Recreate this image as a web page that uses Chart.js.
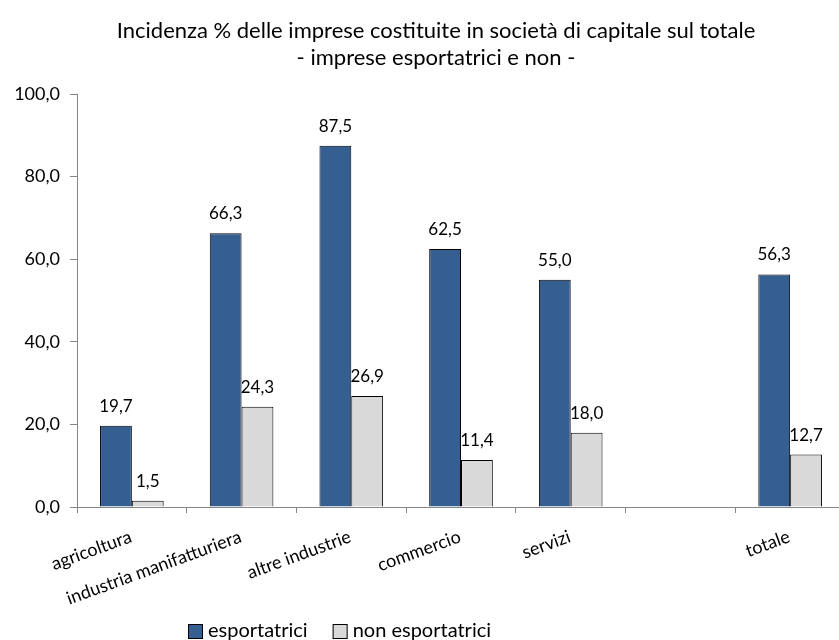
<!DOCTYPE html>
<html>
<head>
<meta charset="utf-8">
<script src="https://cdn.jsdelivr.net/npm/chart.js@4"></script>
<style>
  html, body { margin: 0; padding: 0; background: #fff; overflow: hidden; }
  #wrap { width: 846px; height: 640px; position: relative; }
</style>
</head>
<body>
<div id="wrap"><canvas id="chart"></canvas></div>
<script>
const categories = ['agricoltura', 'industria manifatturiera', 'altre industrie', 'commercio', 'servizi', '', 'totale'];
const esportatrici = [19.7, 66.3, 87.5, 62.5, 55.0, null, 56.3];
const nonEsportatrici = [1.5, 24.3, 26.9, 11.4, 18.0, null, 12.7];
const yTicks = [0, 20, 40, 60, 80, 100];
const titleLines = ['Incidenza % delle imprese costituite in società di capitale sul totale', '- imprese esportatrici e non -'];

const FONT = 'Lato, "Open Sans", sans-serif';
const fmt = v => v.toFixed(1).replace('.', ',');

// etichette sopra le barre
const valueLabels = {
  id: 'valueLabels',
  afterDatasetsDraw(chart) {
    const ctx = chart.ctx;
    ctx.save();
    ctx.font = '17px ' + FONT;
    ctx.fillStyle = '#000';
    ctx.textAlign = 'center';
    ctx.textBaseline = 'bottom';
    chart.data.datasets.forEach((ds, i) => {
      chart.getDatasetMeta(i).data.forEach((bar, j) => {
        const v = ds.data[j];
        if (v == null) return;
        ctx.fillText(fmt(v), bar.x, bar.y - 11);
      });
    });
    ctx.restore();
  }
};

// titolo e legenda disegnati a mano (non centrati sul canvas)
const titleAndLegend = {
  id: 'titleAndLegend',
  afterDraw(chart) {
    const ctx = chart.ctx;
    ctx.save();
    ctx.fillStyle = '#000';
    ctx.font = '22px ' + FONT;
    ctx.textAlign = 'center';
    ctx.textBaseline = 'middle';
    titleLines.forEach((t, i) => ctx.fillText(t, 436, 31 + i * 27));

    ctx.font = '20px ' + FONT;
    ctx.textAlign = 'left';
    let x = 188;
    const y = 631;
    chart.data.datasets.forEach(ds => {
      ctx.fillStyle = ds.backgroundColor;
      ctx.fillRect(x, y - 7, 15, 15);
      ctx.strokeStyle = '#000';
      ctx.lineWidth = 1;
      ctx.strokeRect(x + 0.5, y - 6.5, 14, 14);
      ctx.fillStyle = '#000';
      ctx.fillText(ds.label, x + 20, y);
      x += 20 + ctx.measureText(ds.label).width + 25;
    });
    ctx.restore();
  }
};

const ctx = document.getElementById('chart').getContext('2d');

new Chart(ctx, {
  type: 'bar',
  data: {
    labels: categories,
    datasets: [{
      label: 'esportatrici',
      data: esportatrici,
      backgroundColor: '#365F91',
      borderColor: '#000',
      borderWidth: 1
    }, {
      label: 'non esportatrici',
      data: nonEsportatrici,
      backgroundColor: '#D9D9D9',
      borderColor: '#000',
      borderWidth: 1
    }]
  },
  options: {
    responsive: true,
    maintainAspectRatio: false,
    animation: false,
    categoryPercentage: 0.58,
    barPercentage: 1,
    layout: { padding: { left: 0, right: 1, top: 94, bottom: 0 } },
    scales: {
      x: {
        grid: { display: true, drawOnChartArea: false, tickLength: 6, color: '#868686', offset: true },
        border: { color: '#868686' },
        ticks: {
          color: '#000',
          font: { family: FONT, size: 18 },
          minRotation: 20,
          maxRotation: 20,
          autoSkip: false,
          padding: 13,
          labelOffset: -1
        },
        afterFit(axis) { axis.height = 133; }
      },
      y: {
        min: 0,
        max: 100,
        afterBuildTicks(axis) { axis.ticks = yTicks.map(v => ({ value: v })); },
        grid: { display: true, drawOnChartArea: false, tickLength: 7, color: '#868686' },
        border: { color: '#868686' },
        ticks: {
          color: '#000',
          font: { family: FONT, size: 18 },
          padding: 10,
          callback: v => fmt(v)
        },
        afterFit(axis) { axis.width = 77; }
      }
    },
    plugins: {
      legend: { display: false },
      tooltip: { enabled: false },
      title: { display: false }
    }
  },
  plugins: [valueLabels, titleAndLegend]
});
</script>
</body>
</html>
